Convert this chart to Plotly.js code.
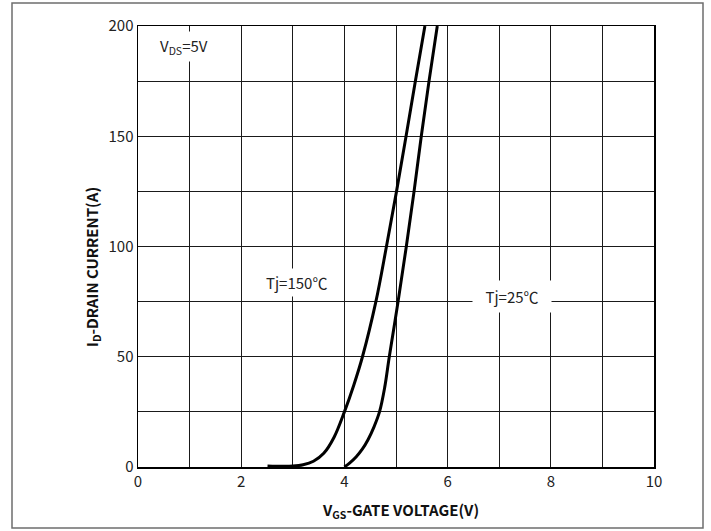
<!DOCTYPE html>
<html>
<head>
<meta charset="utf-8">
<script src="https://cdn.plot.ly/plotly-3.0.1.min.js"></script>
<style>html,body{margin:0;padding:0;background:#fff;}#chart{width:711px;height:531px;}</style>
</head>
<body>
<div id="chart"></div>
<script>
// Tj = 150°C transfer curve
const vgs150 = [2.51, 2.8, 3.0, 3.2, 3.4, 3.6, 3.8, 4.0, 4.18, 4.35, 4.61, 4.815, 5.01, 5.195, 5.375, 5.56];
const id150  = [0.5, 0.3, 0.4, 1.0, 2.6, 6.2, 13.5, 25, 37, 50, 75, 100, 125, 150, 175, 200];
// Tj = 25°C transfer curve
const vgs25 = [4.0, 4.1, 4.23, 4.35, 4.46, 4.57, 4.68, 4.78, 4.87, 5.04, 5.2, 5.35, 5.49, 5.64, 5.8];
const id25  = [0, 1.8, 4.7, 8.2, 12.5, 18, 25, 36, 50, 75, 100, 125, 150, 175, 200];
const xTicks = [0, 2, 4, 6, 8, 10];
const yTicks = [0, 50, 100, 150, 200];
const labels = [
  {text: 'V<sub>DS</sub>=5V', x: 0.9, y: 190.5},
  {text: 'Tj=150℃', x: 3.07, y: 83.5},
  {text: 'Tj=25℃', x: 7.25, y: 77.5}
];

const FONT = '"Noto Sans CJK SC", "Noto Sans", sans-serif';
const line = {color: '#000', width: 3, shape: 'spline', smoothing: 1};
const traces = [
  {x: vgs150, y: id150, mode: 'lines', line: line, hoverinfo: 'skip'},
  {x: vgs25, y: id25, mode: 'lines', line: line, hoverinfo: 'skip'}
];

const W = 516, H = 441, L = 138, T = 26;
function px(p){return (p - L)/W;}
function py(p){return (T + H - p)/H;}

const GRID = '#1a1a1a';

const layout = {
  width: 711, height: 531,
  margin: {l: L, r: 711 - L - W, t: T, b: 531 - T - H, pad: 0},
  paper_bgcolor: '#fff', plot_bgcolor: '#fff',
  showlegend: false,
  font: {family: FONT, size: 15, color: '#222'},
  xaxis: {
    range: [0, 10], tickmode: 'array', tickvals: xTicks, ticktext: xTicks.map(String),
    showgrid: true, gridcolor: GRID, gridwidth: 1,
    minor: {tick0: 0, dtick: 1, showgrid: true, gridcolor: GRID, gridwidth: 1, ticks: ''},
    showline: true, linecolor: '#000', linewidth: 1.5, mirror: true,
    ticks: '', zeroline: false, fixedrange: true,
    tickfont: {family: FONT, size: 15, color: '#222'}
  },
  yaxis: {
    range: [0, 200], tickmode: 'array', tickvals: yTicks, ticktext: yTicks.map(String),
    showgrid: true, gridcolor: GRID, gridwidth: 1,
    minor: {tick0: 0, dtick: 25, showgrid: true, gridcolor: GRID, gridwidth: 1, ticks: ''},
    showline: true, linecolor: '#000', linewidth: 1.5, mirror: true,
    ticks: '', zeroline: false, fixedrange: true,
    tickfont: {family: FONT, size: 15, color: '#222'}
  },
  annotations: labels.map((a, i) => ({
    x: a.x, y: a.y, xref: 'x', yref: 'y', text: a.text, showarrow: false,
    xanchor: 'center', yanchor: 'middle',
    bgcolor: '#fff', borderpad: i === 2 ? 5 : 3, width: i === 2 ? 68 : null,
    font: {family: FONT, size: 15, color: '#222'}
  })).concat([
    {xref: 'paper', yref: 'paper', x: px(400), y: py(510), showarrow: false,
     xanchor: 'center', yanchor: 'middle',
     text: '<b>V<sub>GS</sub>-GATE VOLTAGE(V)</b>', font: {family: FONT, size: 15, color: '#111'}},
    {xref: 'paper', yref: 'paper', x: px(92), y: py(267), showarrow: false, textangle: -90,
     xanchor: 'center', yanchor: 'middle',
     text: '<b>I<sub>D</sub>-DRAIN CURRENT(A)</b>', font: {family: FONT, size: 15, color: '#111'}}
  ]),
  shapes: [{
    type: 'rect', xref: 'paper', yref: 'paper', layer: 'below',
    x0: px(12), x1: px(703), y0: py(528), y1: py(3),
    line: {color: '#6e6e6e', width: 1.5}, fillcolor: 'rgba(0,0,0,0)'
  }]
};

Plotly.newPlot('chart', traces, layout, {staticPlot: true, displayModeBar: false});
</script>
</body>
</html>
